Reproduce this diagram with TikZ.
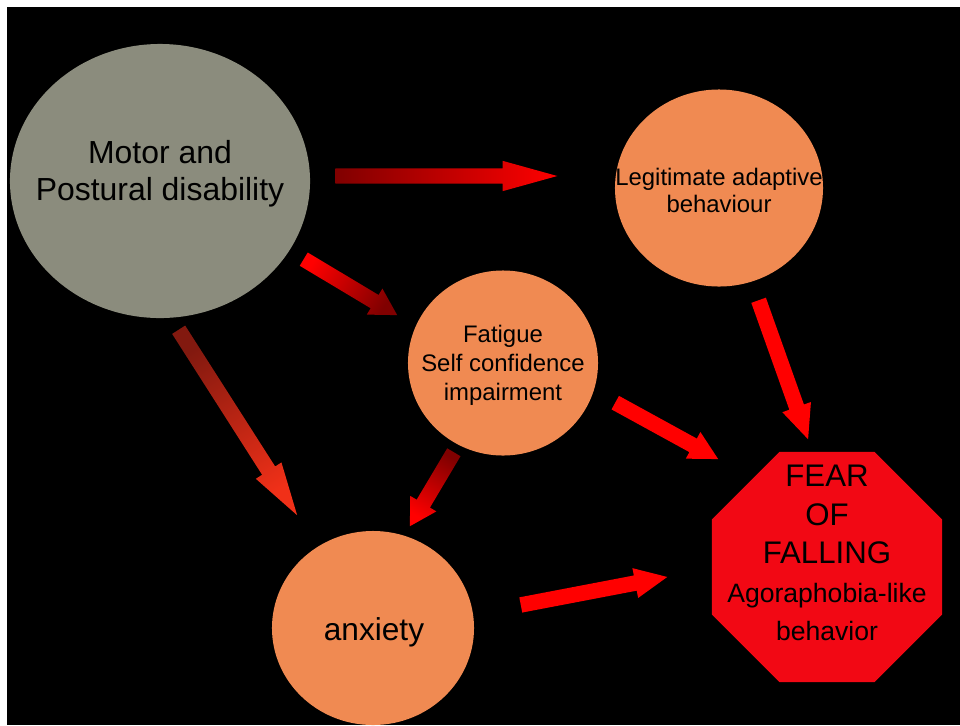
\documentclass[tikz,border=0pt]{standalone}
\usepackage{fontspec}
\setmainfont{Liberation Sans}
\usepackage{tikz}
\usetikzlibrary{shapes.geometric, shapes.arrows, calc}
\definecolor{discgrey}{RGB}{139,140,125}
\definecolor{discorange}{RGB}{240,138,82}
\definecolor{fofred}{RGB}{242,8,20}
\definecolor{arrowred}{RGB}{255,0,0}
\definecolor{arrowdark}{RGB}{128,0,0}
\definecolor{arrowbrown}{RGB}{130,25,15}
\definecolor{arrowflame}{RGB}{240,48,24}
\tikzstyle{disc} = [ellipse, inner sep=0pt, outer sep=0pt]
\tikzstyle{caption} = [text centered, align=center, inner sep=0pt, text=black]
\tikzstyle{blockarrow} = [single arrow, draw=none, inner xsep=0pt, inner ysep=5.3pt, minimum width=0pt,
  single arrow head extend=5.3pt, anchor=tail, sloped, allow upside down]
% block arrow between two named coordinates: from, to, tip angle, colours
\newcommand{\blockconnect}[4]{%
  \path let \p1=($(#2)-(#1)$), \n1={veclen(\x1,\y1)} in
    (#1) -- node[pos=0, blockarrow, minimum height=\n1, single arrow tip angle=#3, #4] {} (#2);
}

\begin{document}
\begin{tikzpicture}[x=0.025cm, y=-0.025cm]
\useasboundingbox (0,0) rectangle (960,725);
\fill[black] (7,7) rectangle (960,725);

\node [disc, fill=discgrey, minimum width=7.5cm, minimum height=6.85cm] at (160,181) (motor) {};
\node [caption, font=\fontsize{22.7}{26.3}\selectfont] at (160,174) (motor_text)
	{Motor and\\Postural disability};
\node [disc, fill=discorange, minimum width=5.2cm, minimum height=4.925cm] at (719,188) (legit) {};
\node [caption, font=\fontsize{17}{19.2}\selectfont] at (719,190) (legit_text)
	{Legitimate adaptive\\behaviour};
\node [disc, fill=discorange, minimum width=4.75cm, minimum height=4.625cm] at (503,363) (fatigue) {};
\node [caption, font=\fontsize{17}{20.6}\selectfont] at (503,365) (fatigue_text)
	{Fatigue\\Self confidence\\impairment};
\node [disc, fill=discorange, minimum width=5.05cm, minimum height=4.85cm] at (373,628) (anxiety) {};
\node [caption, font=\fontsize{22.5}{26}\selectfont] at (374,632) (anxiety_text) {anxiety};
\node [regular polygon, regular polygon sides=8, fill=fofred, inner sep=0pt, outer sep=0pt,
	minimum size=6.225cm] at (827,567) (fof) {};
\node [caption, font=\fontsize{22.2}{27.4}\selectfont] at (827,553) (fof_text)
	{FEAR\\OF\\FALLING\\\fontsize{18.9}{25.6}\selectfont Agoraphobia-like\\
	\fontsize{18.9}{25.6}\selectfont behavior};

\coordinate (tail_motor_legit) at (335,176);
\coordinate (tip_motor_legit) at (557,176);
\coordinate (tail_motor_fatigue) at (303.5,259);
\coordinate (tip_motor_fatigue) at (397,315);
\coordinate (tail_motor_anxiety) at (178.5,329.5);
\coordinate (tip_motor_anxiety) at (297,515);
\coordinate (tail_fatigue_anxiety) at (454,452);
\coordinate (tip_fatigue_anxiety) at (410,526);
\coordinate (tail_fatigue_fof) at (615,402.5);
\coordinate (tip_fatigue_fof) at (718,459);
\coordinate (tail_anxiety_fof) at (520.5,605);
\coordinate (tip_anxiety_fof) at (667,577);
\coordinate (tail_legit_fof) at (758.5,300);
\coordinate (tip_legit_fof) at (808,439);

% shading: top colour at the tip, angle = direction - 90
\blockconnect{tail_motor_legit}{tip_motor_legit}{31}
	{top color=arrowred, bottom color=arrowdark, shading angle=-90}
\blockconnect{tail_motor_fatigue}{tip_motor_fatigue}{60}
	{top color=arrowdark, bottom color=arrowred, shading angle=-120.9}
\blockconnect{tail_motor_anxiety}{tip_motor_anxiety}{32}
	{top color=arrowflame, bottom color=arrowbrown, shading angle=-147.4}
\blockconnect{tail_fatigue_anxiety}{tip_fatigue_anxiety}{60}
	{top color=arrowred, bottom color=arrowdark, shading angle=149.3}
\blockconnect{tail_fatigue_fof}{tip_fatigue_fof}{56}{fill=arrowred}
\blockconnect{tail_anxiety_fof}{tip_anxiety_fof}{50}{fill=arrowred}
\blockconnect{tail_legit_fof}{tip_legit_fof}{48}{fill=arrowred}
\end{tikzpicture}
\end{document}
